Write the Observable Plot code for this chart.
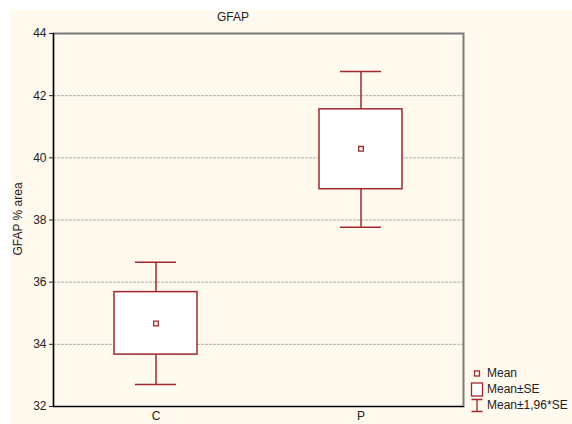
<!DOCTYPE html>
<html>
<head>
<meta charset="utf-8">
<script src="https://cdn.jsdelivr.net/npm/d3@7"></script>
<script src="https://cdn.jsdelivr.net/npm/@observablehq/plot@0.6"></script>
<style>
  html, body { margin: 0; padding: 0; background: #fff; width: 572px; height: 424px; overflow: hidden; }
  #wrap { position: absolute; left: 11px; top: 10px; background: #fff9ee; width: 561px; height: 414px; overflow: hidden; }
  #title { position: absolute; left: 0; top: 0; width: 444px; text-align: center; font: 12px "Liberation Sans", Arial, sans-serif; color: #222; }
  #ylabel { position: absolute; left: 7px; top: 209px; transform: translate(-50%, -50%) rotate(-90deg); font: 12px "Liberation Sans", Arial, sans-serif; color: #222; white-space: nowrap; }
  #legend { position: absolute; left: 459px; top: 355px; font: 12px "Liberation Sans", Arial, sans-serif; color: #222; white-space: nowrap; }
  .li { display: flex; align-items: center; height: 16px; }
  .li svg { width: 15px; height: 15px; margin-right: 2px; flex: none; }
</style>
</head>
<body>
<div id="wrap">
  <div id="chart"></div>
  <div id="title">GFAP</div>
  <div id="ylabel">GFAP % area</div>
  <div id="legend"></div>
</div>
<script>
const groups = ["C", "P"];
const means = [34.67, 40.29];
const seLow = [33.67, 38.99];
const seHigh = [35.68, 41.56];
const ciLow = [32.71, 37.77];
const ciHigh = [36.64, 42.78];
const yTicks = [32, 34, 36, 38, 40, 42, 44];
const gridTicks = [34, 36, 38, 40, 42];
const legendLabels = ["Mean", "Mean±SE", "Mean±1,96*SE"];

const red = "#a0282e";
const rows = groups.map((g, i) => ({g, mean: means[i], seLo: seLow[i], seHi: seHigh[i], ciLo: ciLow[i], ciHi: ciHigh[i]}));

const chart = Plot.plot({
  width: 561,
  height: 414,
  marginLeft: 42,
  marginRight: 109,
  marginTop: 23,
  marginBottom: 18,
  style: {background: "transparent", fontFamily: "Liberation Sans, Arial, sans-serif", fontSize: "12px", color: "#222"},
  x: {type: "band", domain: groups, padding: 0},
  y: {domain: [32, 44]},
  marks: [
    Plot.gridY(gridTicks, {stroke: "#b0b0b0", strokeOpacity: 1, strokeDasharray: "3,1"}),
    Plot.ruleX(rows, {x: "g", y1: "ciLo", y2: "ciHi", stroke: red, strokeWidth: 1.5}),
    Plot.tickY(rows, {x: "g", y: "ciLo", stroke: red, strokeWidth: 1.5, insetLeft: 82, insetRight: 82}),
    Plot.tickY(rows, {x: "g", y: "ciHi", stroke: red, strokeWidth: 1.5, insetLeft: 82, insetRight: 82}),
    Plot.barY(rows, {x: "g", y1: "seLo", y2: "seHi", fill: "#fff", stroke: red, strokeWidth: 1.5, insetLeft: 61, insetRight: 61}),
    Plot.dot(rows, {x: "g", y: "mean", symbol: "square", r: 2.6, stroke: red, strokeWidth: 1.3, fill: "#fff"}),
    Plot.frame({stroke: "#7a7a7a", strokeWidth: 2}),
    Plot.frame({anchor: "left", stroke: "#000", strokeWidth: 1.2}),
    Plot.frame({anchor: "bottom", stroke: "#000", strokeWidth: 1.2}),
    Plot.axisY({ticks: yTicks, tickSize: 4, tickPadding: 3, label: null}),
    Plot.axisX({tickSize: 0, tickPadding: 5, label: null})
  ]
});
document.getElementById("chart").appendChild(chart);

const icons = [
  `<svg viewBox="0 0 15 15"><rect x="4.5" y="5" width="5" height="5" fill="#fff" stroke="${red}" stroke-width="1.3"/></svg>`,
  `<svg viewBox="0 0 15 15"><rect x="1.5" y="1" width="11" height="13" fill="#fff" stroke="${red}" stroke-width="1.3"/></svg>`,
  `<svg viewBox="0 0 15 15"><path d="M1.5 1.5H12.5M7 1.5V13.5M1.5 13.5H12.5" fill="none" stroke="${red}" stroke-width="1.3"/></svg>`
];
document.getElementById("legend").innerHTML = legendLabels.map((l, i) => `<div class="li">${icons[i]}<span>${l}</span></div>`).join("");
</script>
</body>
</html>
